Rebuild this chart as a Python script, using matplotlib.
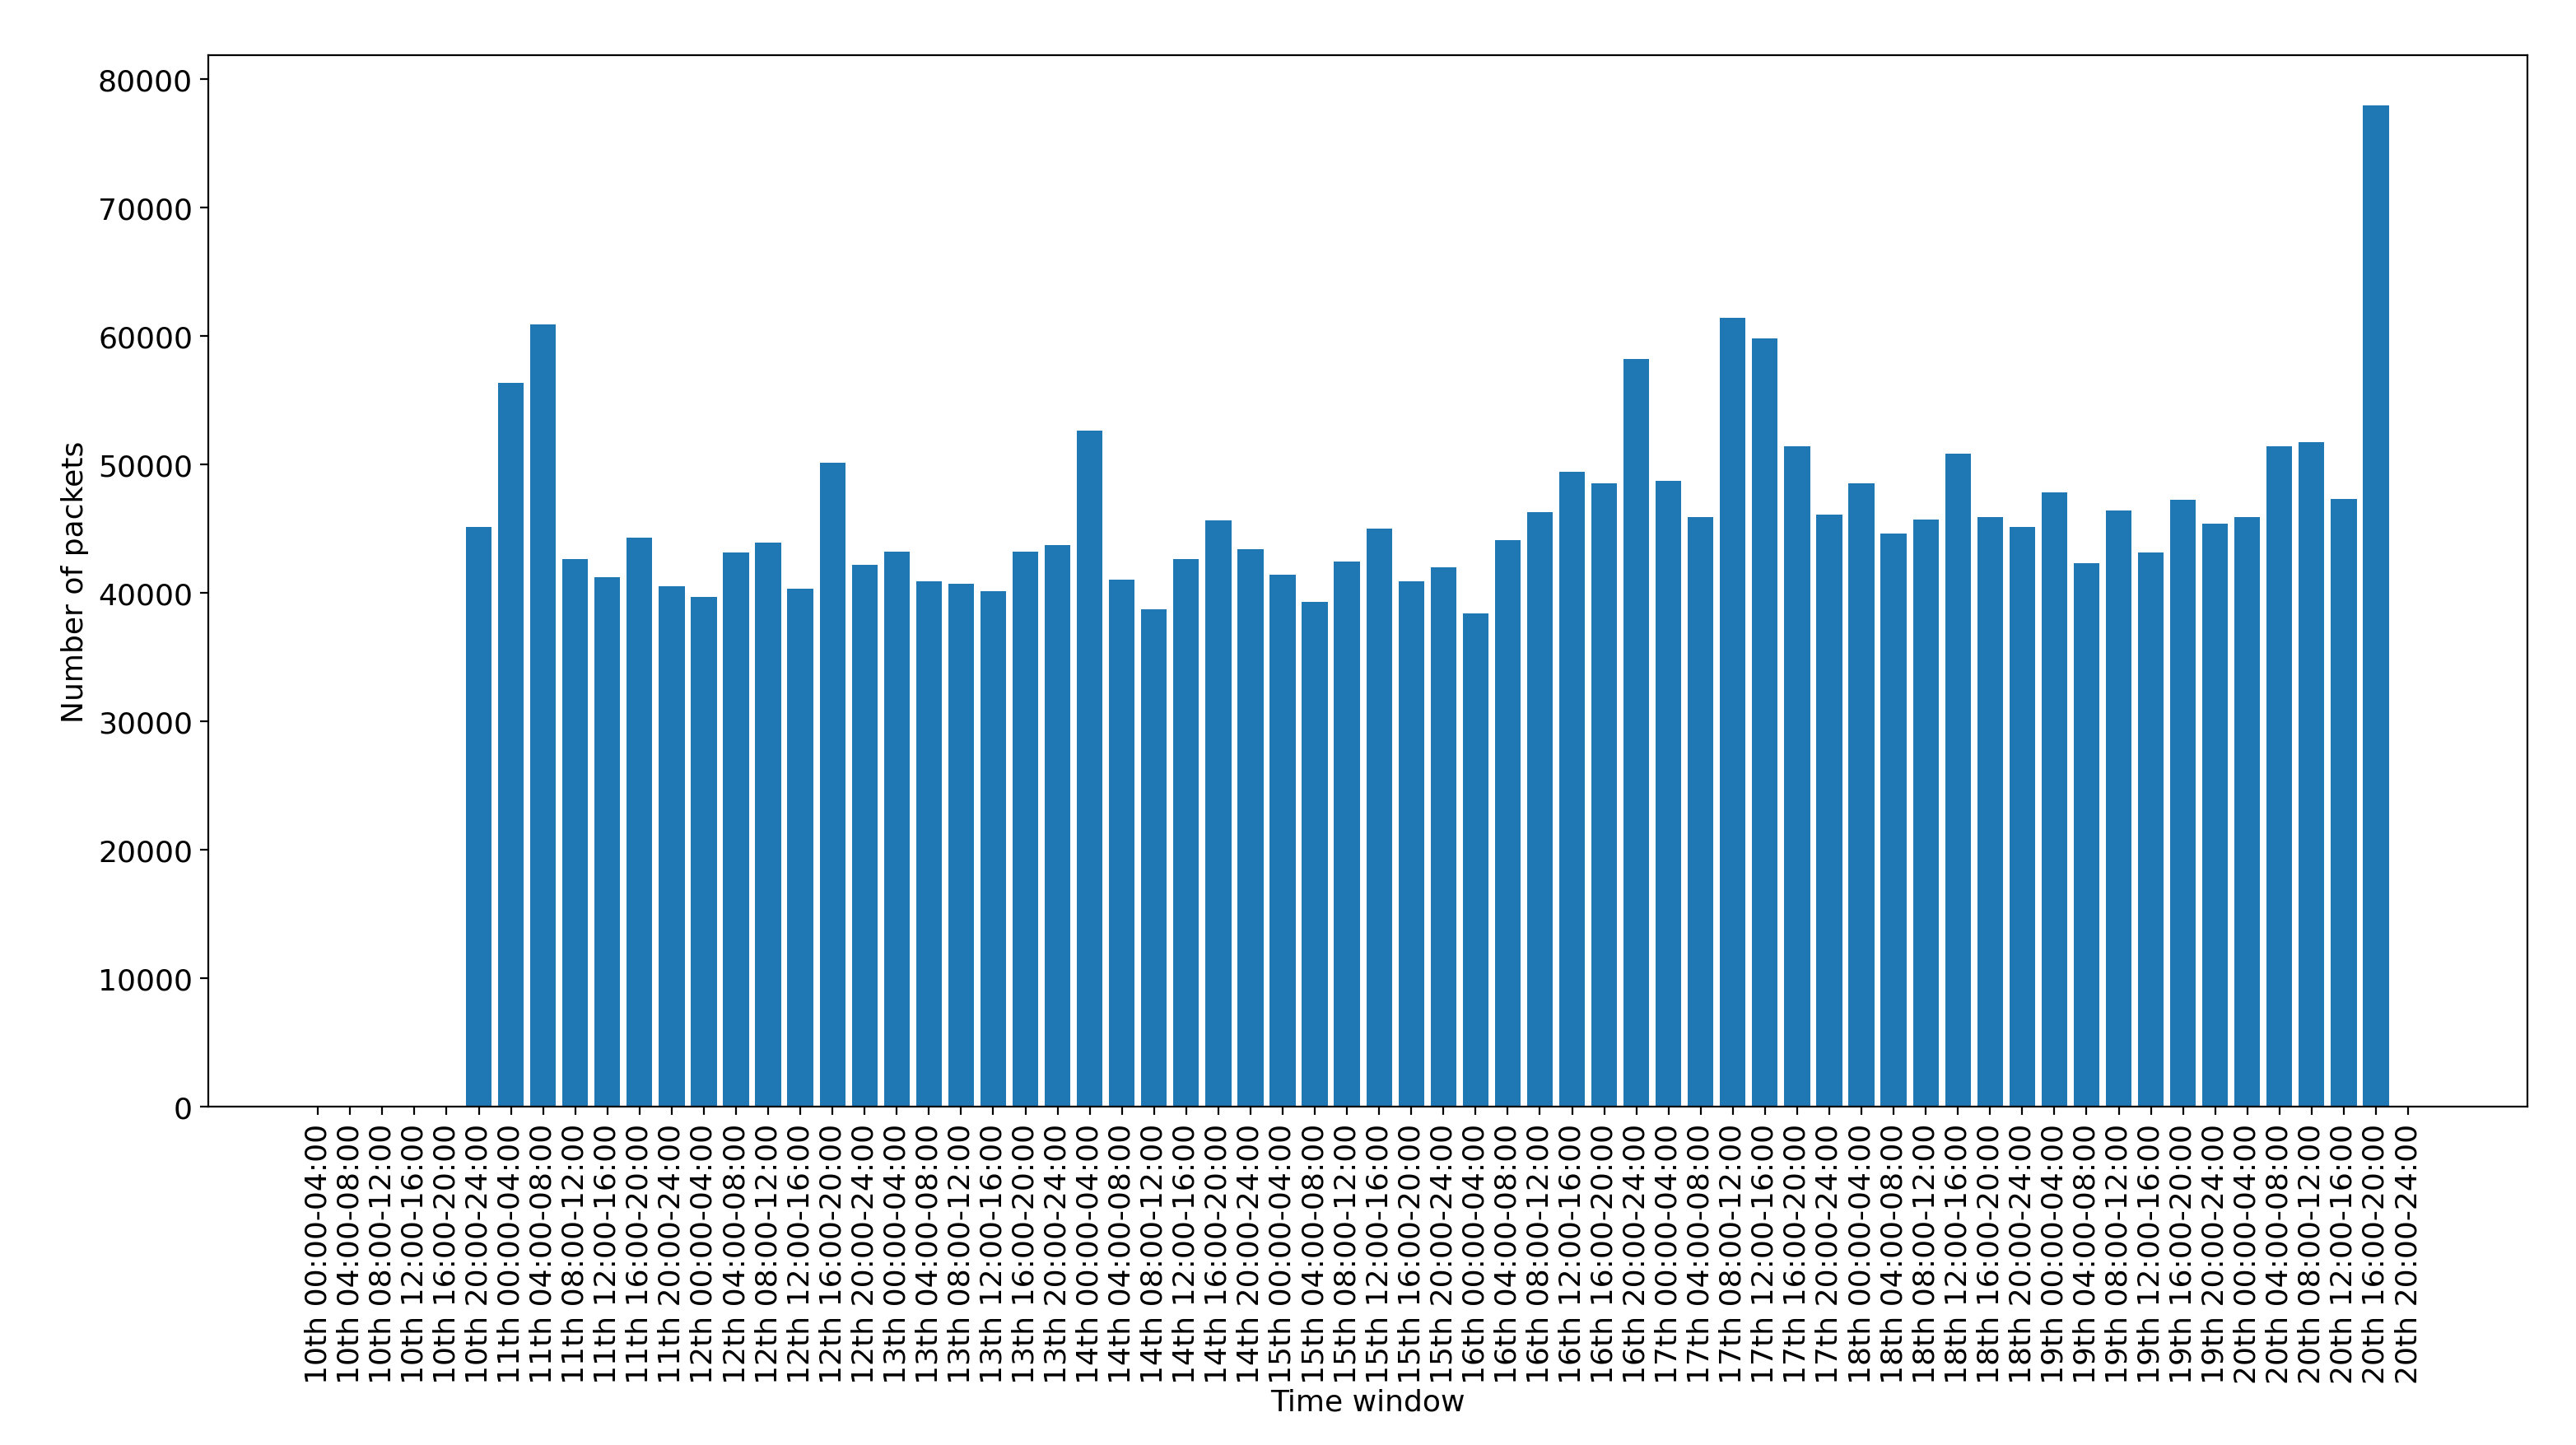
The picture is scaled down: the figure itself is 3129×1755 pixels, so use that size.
import matplotlib
matplotlib.use("Agg")
import matplotlib.pyplot as plt

days = [f"{d}th" for d in range(10, 21)]
windows = ["00:00-04:00", "04:00-08:00", "08:00-12:00",
           "12:00-16:00", "16:00-20:00", "20:00-24:00"]
labels = [f"{d} {w}" for d in days for w in windows]

packets = [
    0, 0, 0, 0, 0, 45100,
    56300, 60900, 42600, 41200, 44300, 40500,
    39700, 43100, 43900, 40300, 50100, 42200,
    43200, 40900, 40700, 40100, 43200, 43700,
    52600, 41000, 38700, 42600, 45600, 43400,
    41400, 39300, 42400, 45000, 40900, 42000,
    38400, 44100, 46300, 49400, 48500, 58200,
    48700, 45900, 61400, 59800, 51400, 46100,
    48500, 44600, 45700, 50800, 45900, 45100,
    47800, 42300, 46400, 43100, 47200, 45400,
    45900, 51400, 51700, 47300, 77900, 0,
]


def showdata():
    fig = plt.figure(figsize=(15.645, 8.78), dpi=200)
    ax = fig.add_axes([0.081, 0.234, 0.9, 0.727])
    ax.bar(labels, packets, color="#1f77b4")
    ax.set_xticks(range(len(labels)))
    ax.set_xticklabels(labels, rotation=90, fontsize=13)
    ax.tick_params(axis="y", labelsize=13)
    ax.set_xlabel("Time window", fontsize=13, labelpad=2)
    ax.set_ylabel("Number of packets", fontsize=13)
    ax.set_xlim(-3.4, len(labels) + 2.7)
    ax.set_ylim(0, 81800)
    fig.savefig("out.png", dpi=200)


if __name__ == "__main__":
    showdata()
